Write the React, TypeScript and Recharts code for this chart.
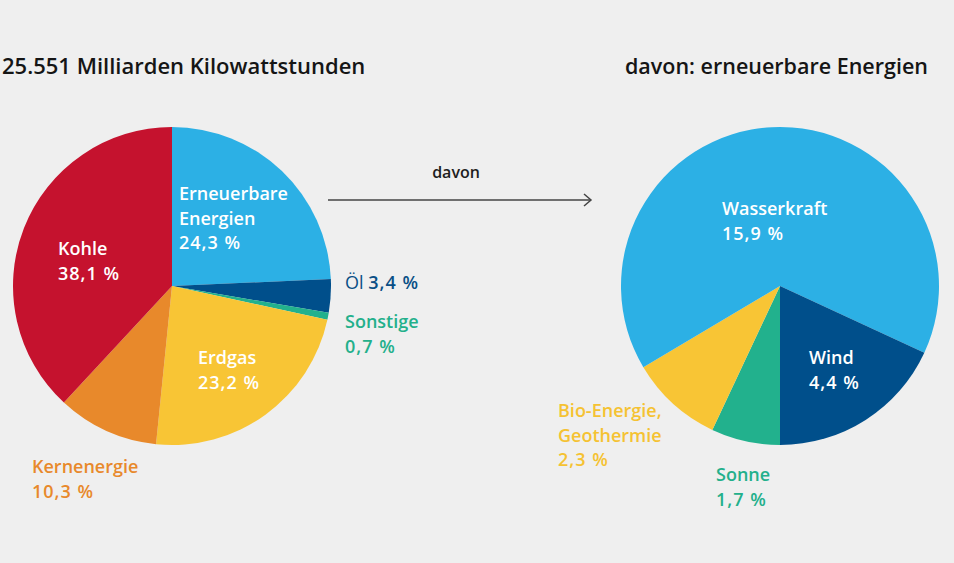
import React from "react";
import { PieChart, Pie, Cell } from "recharts";

// ---- data ----
const mixNames = ["Erneuerbare Energien", "Öl", "Sonstige", "Erdgas", "Kernenergie", "Kohle"];
const mixValues = [24.3, 3.4, 0.7, 23.2, 10.3, 38.1];
const renewNames = ["Sonne", "Bio-Energie, Geothermie", "Wasserkraft", "Wind"];
const renewValues = [1.7, 2.3, 15.9, 4.4];
const titleLeft = "25.551 Milliarden Kilowattstunden";
const titleRight = "davon: erneuerbare Energien";
const arrowLabel = "davon";

// ---- styles ----
const BG = "#efefef";
const FONT = "'Open Sans', 'Noto Sans', sans-serif";
const colors: Record<string, string> = {
  "Erneuerbare Energien": "#2cb0e5",
  "Öl": "#004f8b",
  "Sonstige": "#22b18d",
  "Erdgas": "#f8c535",
  "Kernenergie": "#e8892b",
  "Kohle": "#c5122e",
  "Sonne": "#22b18d",
  "Bio-Energie, Geothermie": "#f8c535",
  "Wasserkraft": "#2cb0e5",
  "Wind": "#004f8b",
};
const textColors: Record<string, string> = {
  "Öl": "#0a4f86",
  "Sonstige": "#23b08b",
  "Kernenergie": "#e8892b",
  "Sonne": "#23b08b",
  "Bio-Energie, Geothermie": "#f5c232",
};
// label placement relative to pie centre
const labelLayout: Record<string, { dx: number; dy: number; lines?: string[]; inline?: boolean }> = {
  "Erneuerbare Energien": { dx: 7, dy: -86, lines: ["Erneuerbare", "Energien"] },
  "Öl": { dx: 173, dy: 3, inline: true },
  "Sonstige": { dx: 173, dy: 42 },
  "Erdgas": { dx: 26, dy: 78 },
  "Kernenergie": { dx: -140, dy: 187 },
  "Kohle": { dx: -114, dy: -31 },
  "Sonne": { dx: -64, dy: 195 },
  "Bio-Energie, Geothermie": { dx: -222, dy: 131, lines: ["Bio-Energie,", "Geothermie"] },
  "Wasserkraft": { dx: -58, dy: -71 },
  "Wind": { dx: 29, dy: 78 },
};
const LINE_H = 24.5;

const mixData = mixNames.map((n, i) => ({ name: n, value: mixValues[i] }));
const renewData = renewNames.map((n, i) => ({ name: n, value: renewValues[i] }));

const fmt = (v: number) => `${v.toFixed(1).replace(".", ",")} %`;

const renderLabel = (props: any) => {
  const { cx, cy, name, value } = props;
  const lay = labelLayout[name];
  if (!lay) return null;
  const fill = textColors[name] || "#ffffff";
  const x = cx + lay.dx;
  const y = cy + lay.dy;
  if (lay.inline) {
    return (
      <text x={x} y={y} fill={fill} fontFamily={FONT} fontSize={18} fontWeight={600}>
        <tspan fontWeight={500}>{name} </tspan>
        <tspan letterSpacing={1}>{fmt(value)}</tspan>
      </text>
    );
  }
  const lines = [...(lay.lines || [name]), fmt(value)];
  return (
    <text x={x} y={y} fill={fill} fontFamily={FONT} fontSize={18} fontWeight={600}>
      {lines.map((l, i) => (
        <tspan key={i} x={x} y={y + i * LINE_H} letterSpacing={i === lines.length - 1 ? 1 : 0}>
          {l}
        </tspan>
      ))}
    </text>
  );
};

export default function App() {
  return (
    <div style={{ position: "absolute", left: 0, top: 0, width: 954, height: 563, background: BG }}>
      <PieChart width={954} height={563} margin={{ top: 0, right: 0, bottom: 0, left: 0 }}>
        <Pie
          data={mixData}
          dataKey="value"
          nameKey="name"
          cx={172}
          cy={286}
          outerRadius={159}
          startAngle={90}
          endAngle={-270}
          stroke="none"
          isAnimationActive={false}
          labelLine={false}
          label={renderLabel}
        >
          {mixData.map((d) => (
            <Cell key={d.name} fill={colors[d.name]} />
          ))}
        </Pie>
        <Pie
          data={renewData}
          dataKey="value"
          nameKey="name"
          cx={780}
          cy={286}
          outerRadius={159}
          startAngle={-90}
          endAngle={-450}
          stroke="none"
          isAnimationActive={false}
          labelLine={false}
          label={renderLabel}
        >
          {renewData.map((d) => (
            <Cell key={d.name} fill={colors[d.name]} />
          ))}
        </Pie>
      </PieChart>
      <svg
        width={954}
        height={563}
        style={{ position: "absolute", left: 0, top: 0, pointerEvents: "none" }}
      >
        <text x={2} y={74} fontFamily={FONT} fontSize={22} fontWeight={600} fill="#151515">
          {titleLeft}
        </text>
        <text x={928} y={74} textAnchor="end" fontFamily={FONT} fontSize={21.5} fontWeight={600} fill="#151515">
          {titleRight}
        </text>
        <text x={456} y={178} textAnchor="middle" fontFamily={FONT} fontSize={16} fontWeight={600} fill="#1e1e1e">
          {arrowLabel}
        </text>
        <line x1={328} y1={200} x2={591} y2={200} stroke="#444" strokeWidth={1.3} />
        <polyline points="584,194 591,200 584,206" fill="none" stroke="#444" strokeWidth={1.5} />
      </svg>
    </div>
  );
}
